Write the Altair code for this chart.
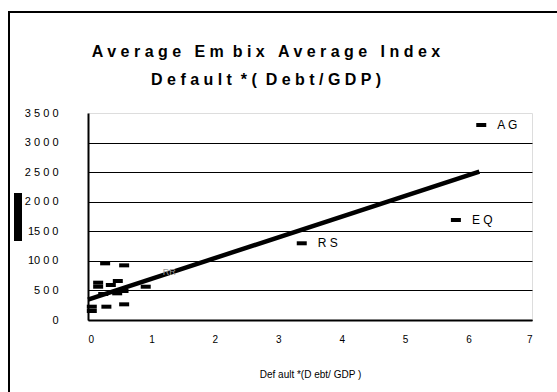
import altair as alt
import pandas as pd

# Scatter points (Default*(Debt/GDP), Average Embix spread)
pt_x = [0.27, 0.57, 0.16, 0.16, 0.36, 0.47, 0.56, 0.46, 0.24, 0.91, 0.06, 0.06, 0.29, 0.57, 3.37, 5.80, 6.20]
pt_y = [958, 924, 631, 563, 592, 659, 490, 451, 440, 563, 225, 152, 225, 265, 1297, 1691, 3297]

# Labelled countries
lab_text = ["R S", "E Q", "A G"]
lab_x = [3.37, 5.80, 6.20]
lab_y = [1297, 1691, 3297]

faint_text = ["RR"]
faint_x = [1.18]
faint_y = [820]

# Regression line
line_x = [0.0, 6.17]
line_y = [345, 2510]

y_ticks = [0, 500, 1000, 1500, 2000, 2500, 3000, 3500]
y_tick_labels = ["0", "5 0 0", "10 0 0", "15 0 0", "2 0 0 0", "2 5 0 0", "3 0 0 0", "3 5 0 0"]
x_ticks = [0, 1, 2, 3, 4, 5, 6, 7]

NB = "\u00a0"
title_lines = [
    f"A v e r a g e {NB}{NB}E m {NB}b i x {NB}{NB}A v e r a g e {NB}{NB}I n d e x",
    f"D e f a u l t {NB}* ( {NB}D e b t / G D P )",
]
x_title = "Def ault *(D ebt/ GDP )"

FONT = "Liberation Sans Narrow, Liberation Sans, Arial"

pts = pd.DataFrame({"x": pt_x, "y": pt_y})
labs = pd.DataFrame({"x": lab_x, "y": lab_y, "t": lab_text})
faint = pd.DataFrame({"x": faint_x, "y": faint_y, "t": faint_text})
ln = pd.DataFrame({"x": line_x, "y": line_y})

label_expr = " : ".join(
    f"datum.value == {v} ? '{l}'" for v, l in zip(y_ticks, y_tick_labels)
) + " : ''"

xs = alt.Scale(domain=[0, 7], nice=False, zero=False)
ys = alt.Scale(domain=[0, 3500], nice=False)

xenc = alt.X("x:Q", scale=xs, axis=alt.Axis(
    values=x_ticks, format="d", title=x_title, grid=False, ticks=False,
    domainColor="black", domainWidth=2, labelFont=FONT, labelFontSize=10,
    labelPadding=14, labelOverlap=False, titleFont=FONT, titleFontSize=10,
    titleFontWeight="normal", titlePadding=25, labelColor="black", titleColor="black"))
yenc = alt.Y("y:Q", scale=ys, axis=alt.Axis(
    values=y_ticks, labelExpr=label_expr, title=None, ticks=False,
    grid=True, gridColor="black", gridWidth=1, labelOverlap=False,
    gridOpacity={"condition": {"test": "datum.value == 3500", "value": 0}, "value": 1},
    domainColor="black", domainWidth=2, labelFont=FONT, labelFontSize=11,
    labelPadding=30, labelColor="black"))

points = alt.Chart(pts).mark_tick(orient="horizontal", size=10, thickness=4, color="black", opacity=1).encode(x=xenc, y=yenc)
line = alt.Chart(ln).mark_line(color="black", strokeWidth=4.5).encode(x=xenc, y=yenc)
texts = alt.Chart(labs).mark_text(align="left", baseline="middle", dx=16, font=FONT, fontSize=12, color="black").encode(
    x=xenc, y=yenc, text="t:N")
ftexts = alt.Chart(faint).mark_text(align="left", baseline="middle", font=FONT, fontSize=9, color="#999999").encode(
    x=xenc, y=yenc, text="t:N")

# decorative frame, title text and the blacked-out y title block
one = pd.DataFrame({"a": [0]})
frame = alt.Chart(one).mark_rect(fill=None, stroke="black", strokeWidth=2, clip=False).encode(
    x=alt.value(-79), x2=alt.value(520), y=alt.value(-101), y2=alt.value(300))
yblock = alt.Chart(one).mark_rect(color="black", clip=False).encode(
    x=alt.value(-74), x2=alt.value(-66), y=alt.value(80), y2=alt.value(128))
title = alt.Chart(one).mark_text(text=title_lines, font=FONT, fontSize=16, fontWeight="bold", color="black",
                                 lineHeight=28, align="center", baseline="alphabetic", clip=False).encode(
    x=alt.value(178), y=alt.value(-56))

chart = alt.layer(points, line, texts, ftexts, frame, yblock, title).properties(
    width=444, height=207,
    autosize=alt.AutoSizeParams(type="none"),
    padding={"left": 88, "top": 113, "right": 25, "bottom": 72},
).configure_view(stroke="#999999", strokeWidth=2).configure(background="white")

chart.save("out.html", embed_options={"renderer": "svg", "actions": False})
